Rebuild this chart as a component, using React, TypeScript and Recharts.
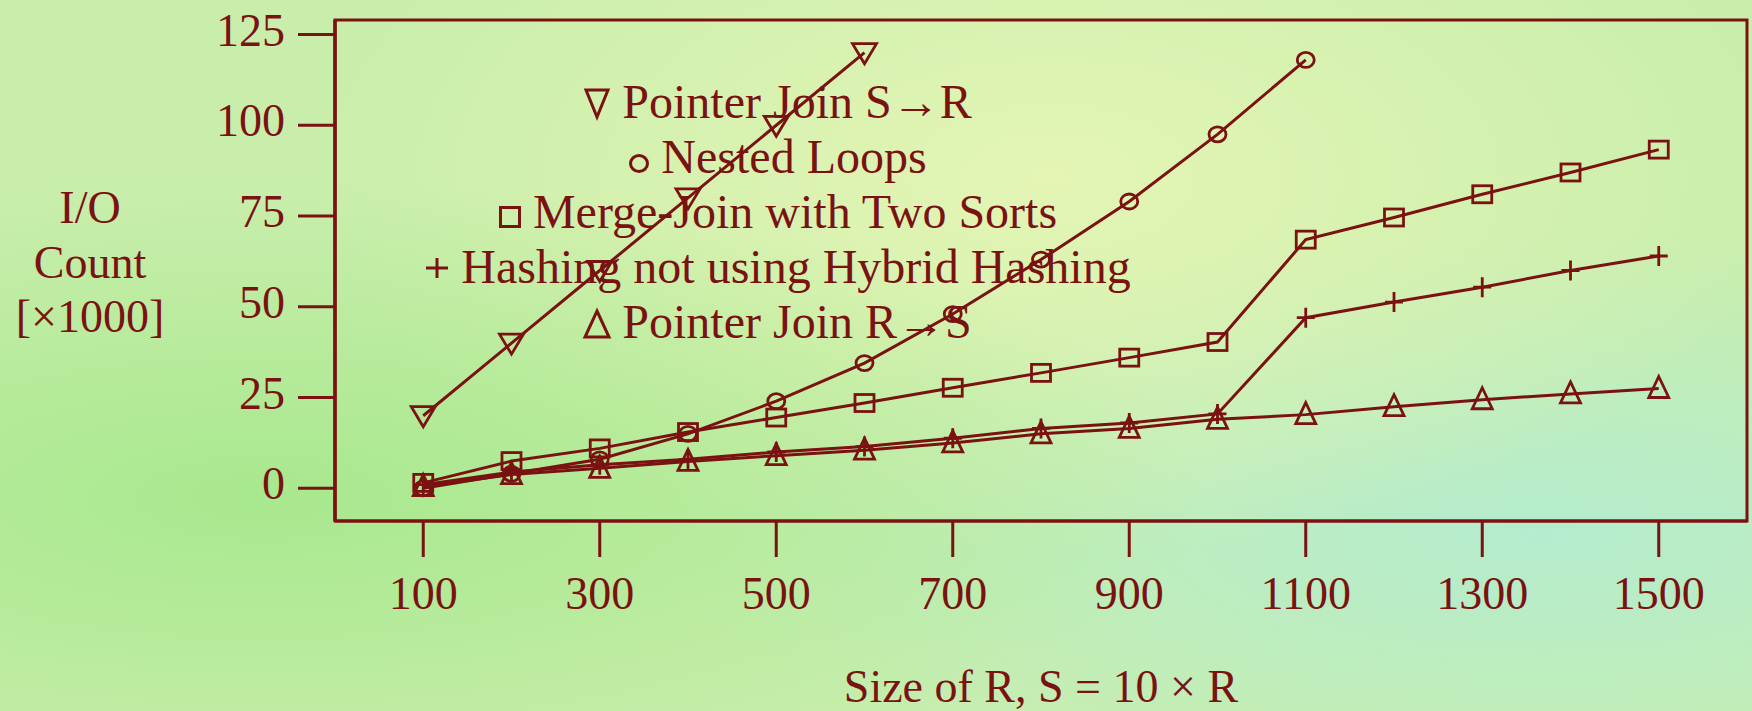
import React from 'react'
import { LineChart, Line, XAxis, YAxis, ReferenceArea, Legend } from 'recharts'

const INK = '#7a1212'
const FONT = '"Liberation Serif", "Times New Roman", Times, serif'

// relation size R (S = 10 x R)
const sizes = [100, 200, 300, 400, 500, 600, 700, 800, 900, 1000, 1100, 1200, 1300, 1400, 1500]

// I/O count in thousands
const pointerJoinSR = [20, 40, 60, 80, 100, 120]
const nestedLoops = [0, 4, 8, 15, 24, 34.5, 48, 63, 79, 97.5, 118]
const mergeJoin = [1.5, 7.5, 11, 15.5, 19.5, 23.5, 27.7, 31.8, 36, 40.3, 68.5, 74.6, 81, 87, 93.3]
const hashing = [1, 4.5, 6.5, 8, 10, 11.5, 13.8, 16.5, 18, 20.5, 47, 51.3, 55.4, 60, 64]
const pointerJoinRS = [0.5, 3.8, 5.5, 7.4, 9, 10.5, 12.5, 15, 16.5, 19, 20.3, 22.5, 24.4, 26, 27.5]

const xTicks = [100, 300, 500, 700, 900, 1100, 1300, 1500]
const yTicks = [0, 25, 50, 75, 100, 125]
const yTitle = ['I/O', 'Count', '[×1000]']
const xTitle = 'Size of R, S = 10 × R'

const series = [
  { key: 'psr', name: 'Pointer Join S→R', shape: 'nabla', values: pointerJoinSR },
  { key: 'nl', name: 'Nested Loops', shape: 'circle', values: nestedLoops },
  { key: 'mj', name: 'Merge-Join with Two Sorts', shape: 'square', values: mergeJoin },
  { key: 'hh', name: 'Hashing not using Hybrid Hashing', shape: 'plus', values: hashing },
  { key: 'prs', name: 'Pointer Join R→S', shape: 'delta', values: pointerJoinRS },
]

const rows = sizes.map((size, i) => {
  const row: any = { size }
  series.forEach(s => { row[s.key] = s.values[i] ?? null })
  return row
})

const Marker = ({ shape, cx, cy }: any) => {
  if (cx == null || cy == null || isNaN(cy)) return null
  const p = { fill: 'none', stroke: INK, strokeWidth: 2.8 }
  switch (shape) {
    case 'nabla':
      return <path d={`M${cx - 12},${cy - 9} L${cx + 12},${cy - 9} L${cx},${cy + 11} Z`} {...p} />
    case 'circle':
      return <ellipse cx={cx} cy={cy} rx={8.5} ry={7.5} {...p} />
    case 'square':
      return <rect x={cx - 9.5} y={cy - 8.5} width={19} height={17} {...p} />
    case 'plus':
      return <path d={`M${cx - 9},${cy} H${cx + 9} M${cx},${cy - 10} V${cy + 10}`} {...p} />
    default:
      return <path d={`M${cx},${cy - 12} L${cx + 10},${cy + 9} L${cx - 10},${cy + 9} Z`} {...p} />
  }
}

const Glyph = ({ shape }: { shape: string }) => {
  const p = { fill: 'none', stroke: INK, strokeWidth: 3 }
  const box = (w: number, h: number, lift: number, child: React.ReactNode) => (
    <svg width={w} height={h} style={{ verticalAlign: lift, overflow: 'visible' }}>{child}</svg>
  )
  switch (shape) {
    case 'nabla':
      return box(26, 30, 0, <path d="M2,2 L24,2 L13,29 Z" {...p} />)
    case 'circle':
      return box(20, 19, 0, <ellipse cx={10} cy={9.5} rx={8.5} ry={8} {...p} />)
    case 'square':
      return box(22, 22, 0, <rect x={1.5} y={1.5} width={19} height={19} {...p} />)
    case 'plus':
      return box(24, 22, 4, <path d="M1,11 H23 M12,1 V21" {...p} />)
    default:
      return box(26, 28, 0, <path d="M13,1 L25,27 L1,27 Z" {...p} />)
  }
}

// keep the legend in plotting order (Recharts sorts its payload by name)
const LegendBox = () => (
  <div style={{ textAlign: 'center', fontFamily: FONT, fontSize: 48, lineHeight: '55px', color: INK, whiteSpace: 'nowrap' }}>
    {series.map(s => (
      <div key={s.key}>
        <Glyph shape={s.shape} /> {s.name}
      </div>
    ))}
  </div>
)

const XTick = ({ x, y, payload }: any) => (
  <text x={x} y={y} dy={50} textAnchor="middle" fill={INK} fontFamily={FONT} fontSize={46}>
    {payload.value}
  </text>
)

const YTick = ({ x, y, payload }: any) => (
  <text x={x} y={y} dy={11} textAnchor="end" fill={INK} fontFamily={FONT} fontSize={46}>
    {payload.value}
  </text>
)

const YTitle = (props: any) => {
  const vb = props.viewBox || { x: 0, y: 20 }
  return (
    <text fill={INK} fontFamily={FONT} fontSize={46} textAnchor="middle">
      {yTitle.map((t, i) => (
        <tspan key={t} x={vb.x + 90} y={vb.y + 203 + i * 54.5}>{t}</tspan>
      ))}
    </text>
  )
}

const XTitle = (props: any) => {
  const vb = props.viewBox || { x: 335, y: 521, width: 1412 }
  return (
    <text x={vb.x + vb.width / 2} y={vb.y + 181} fill={INK} fontFamily={FONT} fontSize={46} textAnchor="middle">
      {xTitle}
    </text>
  )
}

export default function App() {
  return (
    <div
      style={{
        position: 'absolute', left: 0, top: 0, width: 1752, height: 711,
        background:
          'radial-gradient(ellipse at 15% 70%, #a8e88e 0%, rgba(168,232,142,0) 45%),' +
          'radial-gradient(ellipse at 60% 25%, #e4f5b4 0%, rgba(228,245,180,0) 50%),' +
          'radial-gradient(ellipse at 88% 75%, #b4ecce 0%, rgba(180,236,206,0) 40%),' +
          '#c9eeac',
      }}
    >
      <LineChart width={1752} height={711} data={rows} margin={{ top: 20, right: 5, left: 0, bottom: 0 }}>
        <XAxis
          dataKey="size" type="number" domain={[0, 1600]} ticks={xTicks} height={190}
          axisLine={{ stroke: INK, strokeWidth: 3 }} tickLine={{ stroke: INK, strokeWidth: 3 }}
          tickSize={36} tick={<XTick />} label={<XTitle />}
        />
        <YAxis
          type="number" domain={[-9, 129]} ticks={yTicks} width={335}
          axisLine={{ stroke: INK, strokeWidth: 3.5 }} tickLine={{ stroke: INK, strokeWidth: 3 }}
          tickSize={37} tickMargin={13} tick={<YTick />} label={<YTitle />}
        />
        <ReferenceArea x1={0} x2={1600} y1={-9} y2={129} fill="none" stroke={INK} strokeWidth={3} />
        <Legend
          layout="horizontal" verticalAlign="middle" align="center"
          content={<LegendBox />}
          wrapperStyle={{ left: 378, top: 74, width: 800 }}
        />
        {series.map(s => (
          <Line
            key={s.key} dataKey={s.key} name={s.name} stroke={INK} strokeWidth={3}
            isAnimationActive={false} connectNulls={false}
            dot={(props: any) => <Marker key={`${s.key}-${props.index}`} shape={s.shape} cx={props.cx} cy={props.cy} />}
            activeDot={false}
          />
        ))}
      </LineChart>
    </div>
  )
}
